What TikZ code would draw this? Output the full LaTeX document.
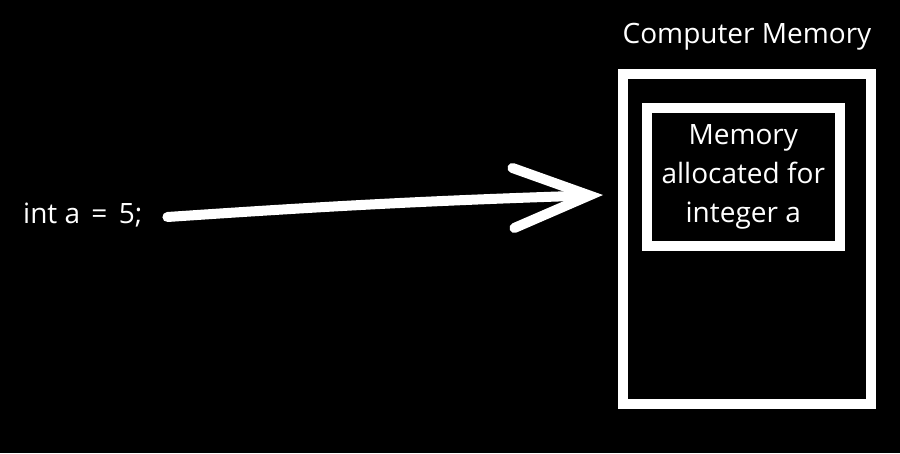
\documentclass[tikz,border=0pt]{standalone}
\usepackage{fontspec}
\setmainfont{Open Sans}
\usepackage{tikz}
\usetikzlibrary{arrows.meta, positioning}

\begin{document}
\begin{tikzpicture}[x=1pt, y=-1pt,
    every node/.style={text=white, font=\fontsize{28}{39}\selectfont},
    membox/.style={draw=white, line width=10pt, inner sep=0pt}]
            \fill[black] (0,0) rectangle (900,453);
            \useasboundingbox (0,0) rectangle (900,453);

            \node[membox, minimum width=248pt, minimum height=330.5pt] (memory) at (747,238.75) {};
            \node[membox, minimum width=193.5pt, minimum height=138pt, align=center] (alloc) at (743.25,177) {Memory\\allocated for\\integer a};
            \node[above=25.5pt of memory.north, anchor=base, inner sep=0pt] (title) {Computer Memory};
            \node[anchor=west, inner sep=0pt] (code) at (23,215) {int a\hspace{4pt} =\hspace{4pt} 5;};
            \coordinate (tip) at (603,195);

            \draw[white, line width=10pt, line cap=round, -{Straight Barb[length=76pt, width=60pt, line cap=round]}]
            ([xshift=25pt, yshift=-2pt]code.east) to[bend left=1] (tip);
        \end{tikzpicture}
\end{document}
